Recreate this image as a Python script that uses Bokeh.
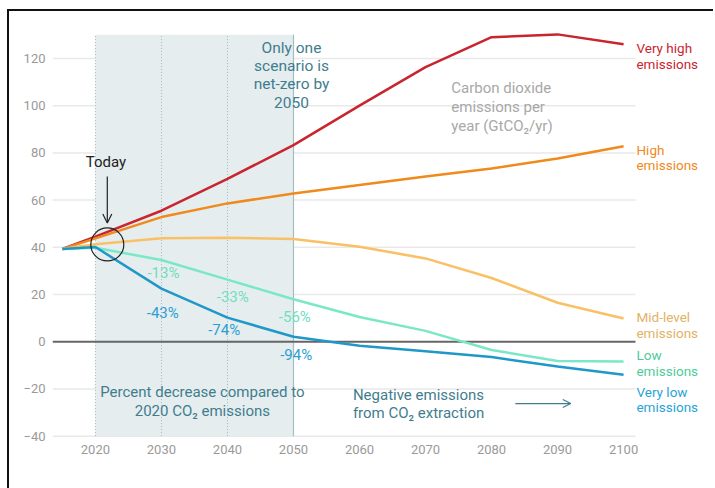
from bokeh.plotting import figure
from bokeh.models import Arrow, OpenHead
from bokeh.core.properties import value
from bokeh.embed import file_html
from bokeh.resources import INLINE

# ---------------- data ----------------
years = [2015, 2020, 2030, 2040, 2050, 2060, 2070, 2080, 2090, 2100]
very_high = [39.3, 44.5, 55.5, 69.0, 83.3, 100.0, 116.3, 129.0, 130.2, 126.0]
high = [39.3, 43.8, 52.8, 58.6, 62.8, 66.4, 70.0, 73.4, 77.6, 82.8]
mid_level = [39.3, 41.3, 43.8, 44.0, 43.5, 40.2, 35.3, 27.0, 16.5, 9.8]
low = [39.3, 39.8, 34.6, 26.3, 18.0, 10.5, 4.6, -3.5, -8.2, -8.4]
very_low = [39.3, 40.1, 22.5, 10.2, 2.1, -1.7, -4.0, -6.5, -10.5, -14.0]

series_names = ["Very high", "High", "Mid-level", "Low", "Very low"]
series_values = [very_high, high, mid_level, low, very_low]
line_colors = ["#c9252f", "#f08a1c", "#f9c066", "#7ae8c6", "#1f98c9"]
label_colors = ["#c9252f", "#f08a1c", "#e2b265", "#4fcb9a", "#2aa3d6"]

x_ticks = [2020, 2030, 2040, 2050, 2060, 2070, 2080, 2090, 2100]
y_ticks = [-40, -20, 0, 20, 40, 60, 80, 100, 120]

decade_marks = [2020, 2030, 2040, 2050]
low_pct = ["-13%", "-33%", "-56%"]
very_low_pct = ["-43%", "-74%", "-94%"]

FONT = "Roboto"
TEAL = "#3f7d8e"
X0, X1 = 2013.5, 2101.8

p = figure(
    width=704, height=477,
    frame_width=661, frame_height=406,
    min_border_left=43, min_border_right=0,
    min_border_top=21, min_border_bottom=50,
    x_range=(X0, X1 + 78 / 6.6), y_range=(-41, 131),
    output_backend="svg", toolbar_location=None,
)
p.styles = {"margin-left": "7px", "margin-top": "9px",
            "border-left": "2px solid #111111", "border-top": "2px solid #111111",
            "border-right": "none", "border-bottom": "none"}
p.outline_line_color = None
p.background_fill_color = "white"

# axes
for ax in (p.xaxis[0], p.yaxis[0]):
    ax.axis_line_color = None
    ax.major_tick_line_color = None
    ax.minor_tick_line_color = None
    ax.major_tick_in = 0
    ax.major_tick_out = 0
    ax.minor_tick_out = 0
    ax.major_label_text_color = "#9a9a9a"
    ax.major_label_text_font = FONT
    ax.major_label_text_font_size = "13px"
p.xaxis.ticker = x_ticks
p.yaxis.ticker = y_ticks
p.yaxis.major_label_standoff = 7
p.xaxis.major_label_standoff = 6
p.xgrid.grid_line_color = None
p.ygrid.grid_line_color = None

# horizontal gridlines (stop at the end of the data area)
grid_y = [t for t in y_ticks if t != 0]
p.segment(x0=[X0] * len(grid_y), x1=[X1] * len(grid_y), y0=grid_y, y1=grid_y,
          line_color="#e9e9e9", line_width=1.5)

# shaded period 2020-2050
p.quad(left=[decade_marks[0]], right=[decade_marks[-1]], bottom=[y_ticks[0]], top=[130],
       fill_color="#e6edef", line_color=None)
p.segment(x0=decade_marks[:-1], x1=decade_marks[:-1], y0=[y_ticks[0]] * 3, y1=[130] * 3,
          line_color="#9fb8bf", line_width=1, line_dash="1 2")
p.segment(x0=[decade_marks[-1]], x1=[decade_marks[-1]], y0=[y_ticks[0]], y1=[130],
          line_color="#a6bcc3", line_width=1.2)

# zero line
p.segment(x0=[X0], x1=[X1], y0=[0], y1=[0], line_color="#666666", line_width=2)

# series lines
for vals, col in zip(series_values, line_colors):
    p.line(years, vals, line_color=col, line_width=2.5)


def add_lines(lines, x, ys, color, align, size="15px"):
    p.text(x=[x] * len(lines), y=ys, text=lines, text_color=color, text_font=value(FONT),
           text_font_size=value(size), text_align=align, text_baseline="middle")


# right labels
right_label_y = [(124.5, 117.7), (81.4, 74.7), (10.5, 3.8), (-5.5, -12.2), (-21.5, -27.8)]
for name, col, (y1, y2) in zip(series_names, label_colors, right_label_y):
    add_lines([name, "emissions"], X1 + 0.15, [y1, y2], col, "left", "13.5px")

# percent labels
low_pos = [(2030.3, 29.1), (2040.8, 19.0), (2050.2, 10.5)]
vlow_pos = [(2030.2, 12.2), (2039.5, 5.1), (2050.4, -5.5)]
p.text(x=[a for a, b in low_pos], y=[b for a, b in low_pos], text=low_pct,
       text_color="#6fe0bd", text_font=value(FONT), text_font_size=value("15px"),
       text_align="center", text_baseline="middle")
p.text(x=[a for a, b in vlow_pos], y=[b for a, b in vlow_pos], text=very_low_pct,
       text_color="#2a9fd4", text_font=value(FONT), text_font_size=value("15px"),
       text_align="center", text_baseline="middle")

# annotation texts
add_lines(["Only one", "scenario is", "net-zero by", "2050"], 2049.7,
          [124.5, 116.9, 109.3, 101.3], TEAL, "center", "15.5px")
add_lines(["Carbon dioxide", "emissions per", "year (GtCO\u2082/yr)"], 2073.9,
          [107.6, 99.6, 91.6], "#a8a8a8", "left")
add_lines(["Percent decrease compared to", "2020 CO\u2082 emissions"], 2036.2,
          [-21.5, -29.5], TEAL, "center")
add_lines(["Negative emissions", "from CO\u2082 extraction"], 2059.0,
          [-22.7, -30.0], TEAL, "left")
add_lines(["Today"], 2021.6, [76.1], "#222222", "center", "15px")

# today marker
p.scatter(x=[2021.8], y=[41.2], size=33, marker="circle", fill_color=None,
          line_color="#222222", line_width=1.2)
p.add_layout(Arrow(end=OpenHead(size=9, line_color="#222222", line_width=1.2),
                   x_start=2021.8, y_start=70.0, x_end=2021.8, y_end=50.3,
                   line_color="#222222", line_width=1.2))
p.add_layout(Arrow(end=OpenHead(size=8, line_color=TEAL, line_width=1.2),
                   x_start=2083.6, y_start=-26.2, x_end=2092.0, y_end=-26.2,
                   line_color=TEAL, line_width=1.2))

open("out.html", "w").write(file_html(p, INLINE))
